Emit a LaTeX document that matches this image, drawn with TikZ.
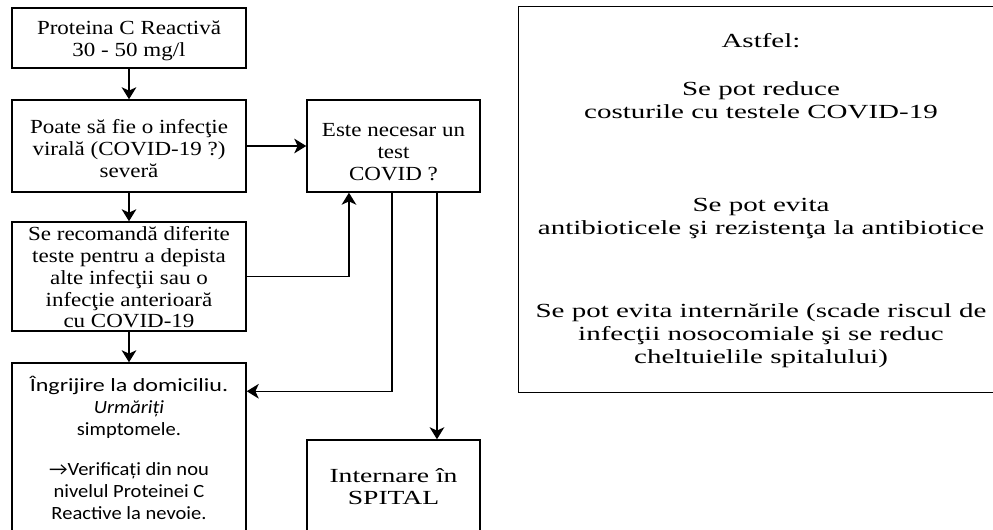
\documentclass[tikz,border=0pt]{standalone}
\usepackage{fontspec}
\usepackage{graphicx}
\setmainfont{Liberation Serif}[FakeStretch=1.15]
\newfontfamily\serifwide{Liberation Serif}[FakeStretch=1.45]
\newfontfamily\serifsp{Liberation Serif}[FakeStretch=1.38]
\newfontfamily\carlito{Carlito}[FakeStretch=1.1]
\usetikzlibrary{arrows.meta}
\newcommand\topsp[1]{\rule{0pt}{#1}}
\begin{document}
\begin{tikzpicture}[x=0.75pt,y=-0.75pt,
  box/.style={draw, line width=1.1pt, rectangle, inner sep=0pt, align=center,
    font=\fontsize{15}{16.5}\selectfont},
  leftbox/.style={box, minimum width=175.5pt},
  midbox/.style={box, minimum width=129.75pt},
  edge/.style={line width=1.1pt},
  arr/.style={edge, -{Stealth[length=9pt,width=11pt,inset=2.5pt]}}]
\useasboundingbox (0,0) rectangle (993,530);
\clip (0,0) rectangle (993,530);

\node[leftbox, minimum height=45pt] (p1) at (129,38)
  {\topsp{15pt}Proteina C Reactivă\\30 - 50 mg/l};
\node[leftbox, minimum height=69pt] (p2) at (129,146)
  {\topsp{15pt}Poate să fie o infecţie\\virală (COVID-19 ?)\\severă};
\node[leftbox, minimum height=81.75pt, font=\fontsize{15}{16.3}\selectfont] (p3) at (129,276.5)
  {\topsp{12pt}Se recomandă diferite\\teste pentru a depista\\alte infecţii sau o\\infecţie anterioară\\cu COVID-19};
\node[leftbox, minimum height=127.5pt, font=\carlito\fontsize{14}{16.6}\selectfont] (p4) at (129,448)
  {\scalebox{1.17}[1]{Îngrijire la domiciliu.}\\\textit{Urmăriți}\\simptomele.\\[13pt]→Verificați din nou\\nivelul Proteinei C\\Reactive la nevoie.};
\node[midbox, minimum height=69pt] (cov) at (393.5,146)
  {\topsp{19.5pt}Este necesar un\\test\\COVID ?};
\node[midbox, minimum height=69.75pt, font=\serifsp\fontsize{15}{16.5}\selectfont] (sp) at (393.5,486.5)
  {Internare în\\SPITAL};
\node[box, draw=none, minimum width=363pt, minimum height=288.75pt,
  font=\serifwide\fontsize{15}{17.4}\selectfont] (r) at (761,199.5)
  {\topsp{12pt}Astfel:\\[18.75pt]Se pot reduce\\costurile cu testele COVID-19\\[52.5pt]Se pot evita\\antibioticele şi rezistenţa la antibiotice\\[44.5pt]Se pot evita internările (scade riscul de\\infecţii nosocomiale şi se reduc\\cheltuielile spitalului)};
\draw[edge] (r.north east) -- (r.north west) -- (r.south west) -- (r.south east);

\draw[arr] (p1) -- (p2);
\draw[arr] (p2) -- (cov);
\draw[arr] (p2) -- (p3);
\draw[arr] (p3) -- (p4);
\draw[arr] (p3.east) -| ([xshift=-33.4pt]cov.south);
\draw[arr] ([xshift=-1.1pt]cov.south) |- ([yshift=-21.75pt]p4.north east);
\draw[arr] ([xshift=32.6pt]cov.south) -- ([xshift=32.6pt]sp.north);
\end{tikzpicture}
\end{document}
